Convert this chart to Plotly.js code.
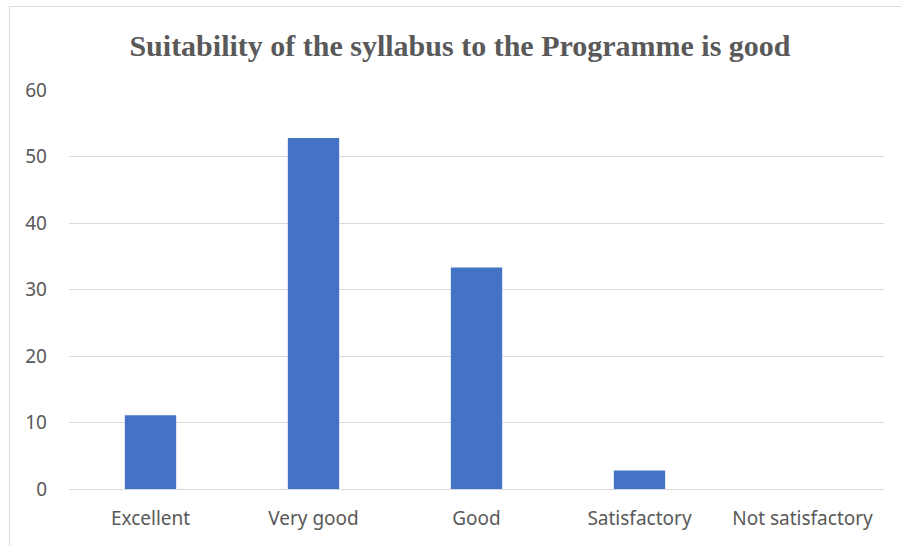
<!DOCTYPE html>
<html>
<head>
<meta charset="utf-8">
<script src="https://cdn.plot.ly/plotly-3.0.1.min.js"></script>
<style>
html,body{margin:0;padding:0;background:#fff;}
#chart{width:901px;height:546px;}
</style>
</head>
<body>
<div id="chart"></div>
<script>
var categories = ["Excellent", "Very good", "Good", "Satisfactory", "Not satisfactory"];
var values = [11.1, 52.8, 33.3, 2.8, 0];
var yTicks = [0, 10, 20, 30, 40, 50, 60];

var trace = {
  type: "bar",
  x: categories,
  y: values,
  marker: {color: "#4472C4"},
  hoverinfo: "x+y"
};

var L = 69, R = 17, T = 90, B = 57, W = 901, H = 546;
var pw = W - L - R, ph = H - T - B;

var layout = {
  width: W, height: H,
  margin: {l: L, r: R, t: T, b: B, pad: 0},
  paper_bgcolor: "#ffffff",
  plot_bgcolor: "#ffffff",
  showlegend: false,
  bargap: 0.685,
  title: {
    text: "<b>Suitability of the syllabus to the Programme is good</b>",
    font: {family: "Liberation Serif, Times New Roman, serif", size: 30, color: "#595959"},
    x: 460 / W, xanchor: "center", xref: "container",
    y: 1 - 45 / H, yanchor: "middle", yref: "container"
  },
  xaxis: {
    type: "category",
    showgrid: false,
    zeroline: false,
    showline: false,
    ticks: "",
    ticklabelstandoff: 16,
    tickfont: {family: "Noto Sans, Open Sans, sans-serif", size: 19, color: "#595959"}
  },
  yaxis: {
    range: [0, 60],
    tickvals: yTicks,
    ticktext: yTicks.map(String),
    showgrid: true,
    gridcolor: "#d9d9d9",
    gridwidth: 1,
    zeroline: true,
    zerolinecolor: "#d9d9d9",
    zerolinewidth: 1,
    showline: false,
    ticks: "",
    ticklabelstandoff: 21,
    tickfont: {family: "Noto Sans, Open Sans, sans-serif", size: 19, color: "#595959"}
  },
  shapes: [{
    type: "rect", xref: "paper", yref: "paper",
    x0: (9.5 - L) / pw, x1: (W + 20 - L) / pw,
    y0: -(B + 20) / ph, y1: 1 + (T - 6.5) / ph,
    line: {color: "#d9d9d9", width: 1},
    fillcolor: "rgba(0,0,0,0)",
    layer: "below"
  }]
};

Plotly.newPlot("chart", [trace], layout, {displayModeBar: false, staticPlot: true});
</script>
</body>
</html>
